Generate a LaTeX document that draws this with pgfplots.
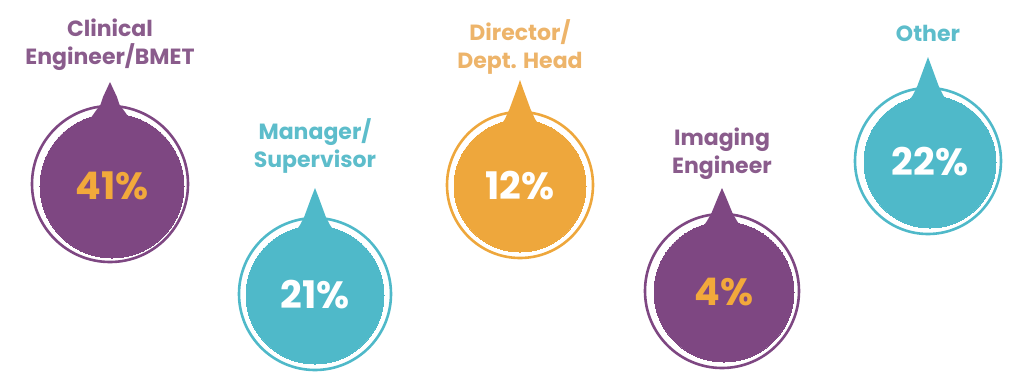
\documentclass[border=0pt]{standalone}
\usepackage{fontspec}
\setmainfont{Poppins}
\usepackage{pgfplots}
\pgfplotsset{compat=1.18}
\definecolor{purp}{HTML}{7E4782}
\definecolor{purplab}{HTML}{8A5C8C}
\definecolor{teal}{HTML}{4FB9C9}
\definecolor{teallab}{HTML}{5DBDCB}
\definecolor{orng}{HTML}{EEA73C}
\definecolor{orlab}{HTML}{EDB46A}
\definecolor{ortext}{HTML}{F2A93B}
\tikzset{lbl/.style={font=\bfseries\fontsize{11}{14}\selectfont, align=center}}
\begin{document}
\begin{tikzpicture}
\begin{axis}[
  width=512pt, height=191pt, scale only axis,
  xmin=0, xmax=1024, ymin=0, ymax=382, y dir=reverse,
  hide axis, clip=false,
  /pgf/number format/assume math mode=true,
  pct/.style={only marks, mark=*, point meta=explicit,
    nodes near coords={\pgfmathprintnumber{\pgfplotspointmeta}\%},
    nodes near coords align={anchor=center},
    every node near coord/.append style={font=\bfseries\fontsize{19}{19}\selectfont, anchor=center}},
  ring/.style={only marks, mark=o},
]
\path (rel axis cs:0,0) rectangle (rel axis cs:1,1);
% rings
\addplot[ring, color=purp, mark size=39pt, mark options={draw=purp, fill=none, line width=1.3pt}] coordinates {(110,184)};
\addplot[ring, color=teal, mark size=38pt, mark options={draw=teal, fill=none, line width=1.3pt}] coordinates {(315,294)};
\addplot[ring, color=orng, mark size=36.5pt, mark options={draw=orng, fill=none, line width=1.3pt}] coordinates {(520,185)};
\addplot[ring, color=purp, mark size=38.5pt, mark options={draw=purp, fill=none, line width=1.3pt}] coordinates {(722,291)};
\addplot[ring, color=teal, mark size=36.5pt, mark options={draw=teal, fill=none, line width=1.3pt}] coordinates {(928,161)};
% spikes
\addplot[fill=purp, draw=none] coordinates {(88,122) (95,112) (100.5,104.5) (103,97) (106.5,89.5) (110,82) (113.5,89.5) (117,97) (119.5,104.5) (125,112) (132,122)} --cycle;
\addplot[fill=teal, draw=none] coordinates {(293,235) (300,225) (304.5,216) (308,206.5) (311.5,197) (315,188) (318.5,197) (322,206.5) (325.5,216) (330,225) (337,235)} --cycle;
\addplot[fill=orng, draw=none] coordinates {(498,129) (505,119) (509.5,109) (513,99.5) (516.5,90) (520,80) (523.5,90) (527,99.5) (530.5,109) (535,119) (542,129)} --cycle;
\addplot[fill=purp, draw=none] coordinates {(700,231) (707,221) (711.5,213) (715,204.5) (718.5,196) (722,188) (725.5,196) (729,204.5) (732.5,213) (737,221) (744,231)} --cycle;
\addplot[fill=teal, draw=none] coordinates {(906,105) (913,95) (917.5,85.5) (921,76) (924.5,66.5) (928,57) (931.5,66.5) (935,76) (938.5,85.5) (943,95) (950,105)} --cycle;
% filled circles with percentages
\addplot[pct, color=purp, mark size=36pt, mark options={fill=purp, draw=purp, line width=0pt}, every node near coord/.append style={text=ortext}] coordinates {(112,186) [41]};
\addplot[pct, color=teal, mark size=34.5pt, mark options={fill=teal, draw=teal, line width=0pt}, every node near coord/.append style={text=white}] coordinates {(315,295) [21]};
\addplot[pct, color=orng, mark size=33pt, mark options={fill=orng, draw=orng, line width=0pt}, every node near coord/.append style={text=white}] coordinates {(520,186) [12]};
\addplot[pct, color=purp, mark size=35pt, mark options={fill=purp, draw=purp, line width=0pt}, every node near coord/.append style={text=ortext}] coordinates {(724,292) [4]};
\addplot[pct, color=teal, mark size=33pt, mark options={fill=teal, draw=teal, line width=0pt}, every node near coord/.append style={text=white}] coordinates {(930,162) [22]};
% labels
\node[lbl, text=purplab] at (axis cs:110,45) {Clinical\\Engineer/BMET};
\node[lbl, text=teallab] at (axis cs:315,146) {Manager/\\Supervisor};
\node[lbl, text=orlab] at (axis cs:520,46.5) {Director/\\Dept. Head};
\node[lbl, text=purplab] at (axis cs:722,154) {Imaging\\Engineer};
\node[lbl, text=teallab] at (axis cs:928,33) {Other};
\end{axis}
\end{tikzpicture}
\end{document}
